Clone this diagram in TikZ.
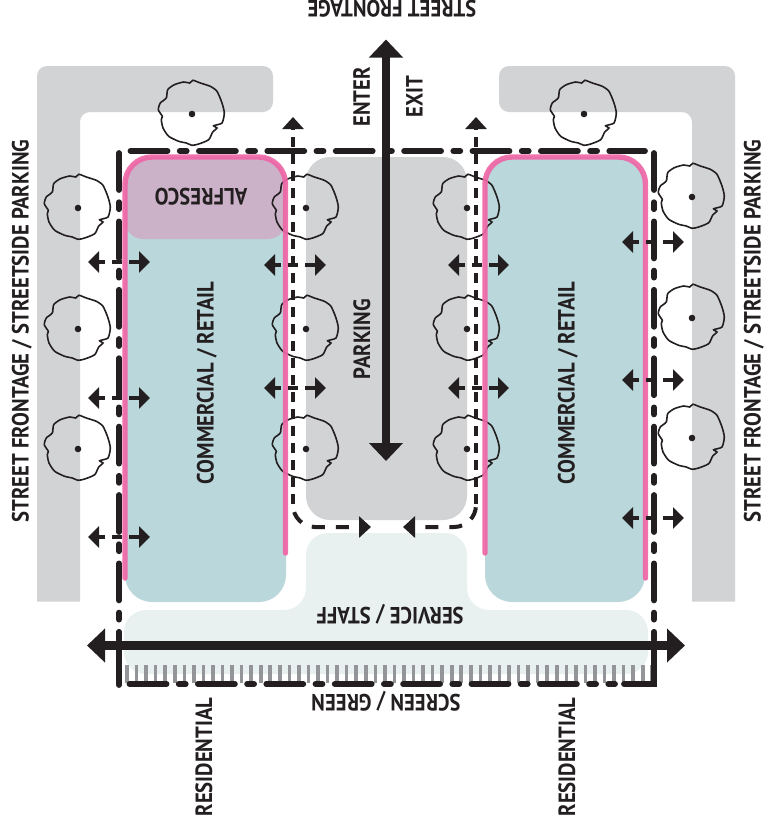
\documentclass[tikz,border=0pt]{standalone}
\usepackage{xcolor}
\usepackage{fontspec}
\setmainfont{PT Sans}[FakeStretch=0.88]
\usepackage{tikz}
\usetikzlibrary{arrows.meta, calc}

\definecolor{inkblack}{HTML}{231F20}
\definecolor{roadgrey}{HTML}{D1D3D4}
\definecolor{shopteal}{HTML}{BAD7DB}
\definecolor{alfrescomauve}{HTML}{CBB2C8}
\definecolor{servicepale}{HTML}{E8F1F0}
\definecolor{edgepink}{HTML}{EE66A6}
\definecolor{screengrey}{HTML}{939598}

\tikzset{
  lbl/.style={font=\bfseries\fontsize{23.5}{26}\selectfont, text=inkblack, inner sep=0pt},
  boundary/.style={line width=5.8pt, draw=inkblack, line cap=round, dash pattern=on 37pt off 12.2pt on 7pt off 12.2pt},
  solidedge/.style={line width=5.8pt, draw=inkblack, line cap=round},
  frontline/.style={line width=5.4pt, draw=edgepink, line cap=round, opacity=0.92},
  accessup/.style={line width=4pt, draw=inkblack, {Triangle[length=12pt,width=21pt]}-, dash pattern=on 10pt off 7pt, dash phase=8pt},
  accesscross/.style={line width=4pt, draw=inkblack, {Triangle[length=12pt,width=21pt]}-, dash pattern=on 13pt off 11pt, dash phase=13pt},
  permeable/.style={line width=4pt, draw=inkblack, {Triangle[length=11pt,width=21pt]}-{Triangle[length=11pt,width=21pt]}, dash pattern=on 10pt off 7pt, dash phase=3pt},
  mainroute/.style={line width=8.5pt, draw=inkblack, {Triangle[length=18pt,width=33pt]}-{Triangle[length=18pt,width=33pt]}},
  pics/shadetree/.style={code={
    \draw[line width=1.6pt, draw=inkblack] plot[smooth cycle, tension=0.4] coordinates {(1,-33.7) (-2.3,-31) (-8.3,-32) (-17.7,-29.3) (-24.3,-24.3) (-25.7,-16) (-31.7,-11) (-33.7,-4.3) (-29.7,2.3) (-30.7,5.7) (-29,14) (-23.3,22.3) (-13.3,27.3) (-5.7,29) (0,31.3) (6.7,30) (16.7,25.7) (20.7,18) (25,14) (21.7,11.7) (30,9) (32.3,-1) (30,-11) (25,-22.7) (18.3,-27.7) (8.3,-31)};
    \fill[inkblack] (0,0) circle(3.3);
  }}
}

\begin{document}
\begin{tikzpicture}[x=1pt, y=-1pt]
\useasboundingbox (0,0) rectangle (765,831);

% Streets
\fill[roadgrey] (37,601.5) [rounded corners=10] -- (37,66) -- (273,66) -- (273,112) -- (80,112) [sharp corners] -- (80,601.5) -- cycle;
\fill[roadgrey] (692,601.5) [rounded corners=10] -- (692,112) -- (499,112) -- (499,66) -- (735,66) [sharp corners] -- (735,601.5) -- cycle;

% Parking and service
\fill[roadgrey, rounded corners=24] (306,157) rectangle (467,520);
\fill[servicepale, rounded corners=22] (124,674) -- (124,610) -- (306,610) -- (306,533) -- (467,533) -- (467,610) -- (648,610) -- (648,674) -- cycle;

% Shops
\fill[shopteal, rounded corners=27] (125,157) rectangle (286,602);
\fill[shopteal, rounded corners=27] (485,157) rectangle (645,602);
\fill[alfrescomauve] (125,200) [rounded corners=27] -- (125,157) -- (286,157) [rounded corners=18] -- (286,239) -- (125,239) -- cycle;

% Screen planting
\foreach \i in {0,...,55} {
    \draw[screengrey, line width=3.6pt] (127+\i*9.55,665) -- (127+\i*9.55,683);
}

% Trees
\foreach \px/\py in {192/114,78/208,78/329,78/449,306/208,306/329,306/449,467/208,467/329,467/449,584/114,692/197,692/318,692/438} {
    \pic at (\px,\py) {shadetree};
}

% Active frontages
\draw[frontline, rounded corners=27] (125,578) -- (125,157) -- (285.5,157) -- (285.5,553);
\draw[frontline, rounded corners=27] (485,553) -- (485,157) -- (645.5,157) -- (645.5,578);

% Site boundary
\draw[boundary] (130.5,151) -- (645,151);
\draw[boundary] (119,153) -- (119,640);
\draw[boundary] (654,153) -- (654,640);
\draw[boundary] (129.5,684) -- (615,684);
\draw[solidedge] (119,647) -- (119,685);
\draw[solidedge] (624,684) -- (654,684) -- (654,647);

% Ways in and out of the shops
\foreach \py in {262,398,537} {
    \draw[permeable] (88,\py) -- (150,\py);
}
\foreach \py in {265,388} {
    \draw[permeable] (264,\py) -- (326,\py);
    \draw[permeable] (448,\py) -- (509,\py);
}
\foreach \py in {242,380,518} {
    \draw[permeable] (622,\py) -- (684,\py);
}

% Service access
\coordinate (leftin) at (371,527);
\coordinate (rightin) at (403,527);
\coordinate (leftout) at (293,117);
\coordinate (rightout) at (476,117);
\coordinate (leftturn) at (293,505);
\coordinate (rightturn) at (476,505);
\draw[accessup] (leftout) -- (leftturn);
\draw[accessup] (rightout) -- (rightturn);
\draw[accesscross] (leftin) -- (315,527) arc[start angle=90, end angle=180, radius=22];
\draw[accesscross] (rightin) -- (454,527) arc[start angle=90, end angle=0, radius=22];

% Main routes
\coordinate (roadtop) at (386,39.5);
\coordinate (roadend) at (386,461);
\coordinate (laneleft) at (87,645.5);
\coordinate (laneright) at (685,645.5);
\draw[mainroute] (roadtop) -- (roadend);
\draw[mainroute] (laneleft) -- (laneright);

% Labels
\node[lbl, rotate=180] (frontage) at (392,8.6) {STREET FRONTAGE};
\node[lbl, rotate=90] (enter) at (361.5,97) {ENTER};
\node[lbl, rotate=90] (exit) at (414.5,97) {EXIT};
\node[lbl, rotate=90] (parking) at (362,339) {PARKING};
\node[lbl, rotate=180] (alfresco) at (201,197) {ALFRESCO};
\node[lbl, rotate=90] (shopleft) at (207,383) {COMMERCIAL / RETAIL};
\node[lbl, rotate=90] (shopright) at (568,383) {COMMERCIAL / RETAIL};
\node[lbl, rotate=180] (service) at (390,614) {SERVICE / STAFF};
\node[lbl, rotate=180] (screen) at (386,701) {SCREEN / GREEN};
\node[lbl, rotate=90] (resleft) at (204,757) {RESIDENTIAL};
\node[lbl, rotate=90] (resright) at (567,757) {RESIDENTIAL};
\node[lbl, rotate=90] (streetleft) at (22,331) {STREET FRONTAGE / STREETSIDE PARKING};
\node[lbl, rotate=90] (streetright) at (754,331) {STREET FRONTAGE / STREETSIDE PARKING};
\end{tikzpicture}
\end{document}
